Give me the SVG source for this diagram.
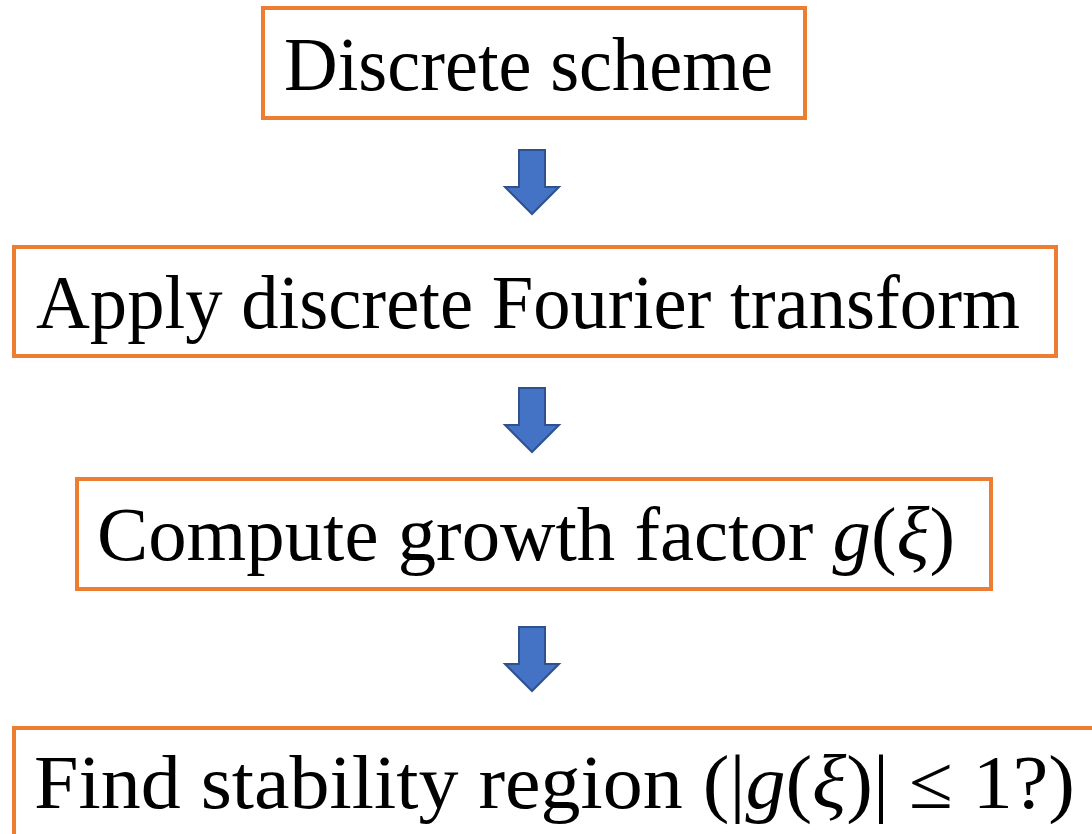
<svg xmlns="http://www.w3.org/2000/svg" width="1092" height="834" viewBox="0 0 1092 834">
<style>
.box{fill:#fff;stroke:#ED7D31;stroke-width:4}
.t{font-family:"Liberation Serif","Times New Roman",serif;font-size:76px;fill:#000}
.i{font-style:italic}
.arr{fill:#4472C4;stroke:#2F528F;stroke-width:2;stroke-linejoin:miter}
</style>
<defs>
<path id="down" d="M-13,0 H13 V37 H27 L0,64 L-27,37 H-13 Z"/>
</defs>
<rect width="1092" height="834" fill="#fff"/>
<g id="connectors">
<use href="#down" class="arr" x="532" y="150"/>
<use href="#down" class="arr" x="532" y="388"/>
<use href="#down" class="arr" x="532" y="627"/>
</g>
<g id="n1">
<rect class="box" x="263" y="8" width="542" height="110"/>
<text class="t" x="284" y="90" textLength="489" lengthAdjust="spacingAndGlyphs">Discrete scheme</text>
</g>
<g id="n2">
<rect class="box" x="14" y="247" width="1042" height="109"/>
<text class="t" x="36" y="328" textLength="984" lengthAdjust="spacingAndGlyphs">Apply discrete Fourier transform</text>
</g>
<g id="n3">
<rect class="box" x="77" y="479" width="914" height="110"/>
<text class="t" x="97" y="560" textLength="858" lengthAdjust="spacingAndGlyphs">Compute growth factor <tspan class="i">g</tspan>(<tspan class="i">ξ</tspan>)</text>
</g>
<g id="n4">
<rect class="box" x="14" y="728" width="1100" height="130"/>
<text class="t" x="34" y="808" textLength="1041" lengthAdjust="spacingAndGlyphs">Find stability region (|<tspan class="i">g</tspan>(<tspan class="i">ξ</tspan>)| ≤ 1?)</text>
</g>
</svg>
